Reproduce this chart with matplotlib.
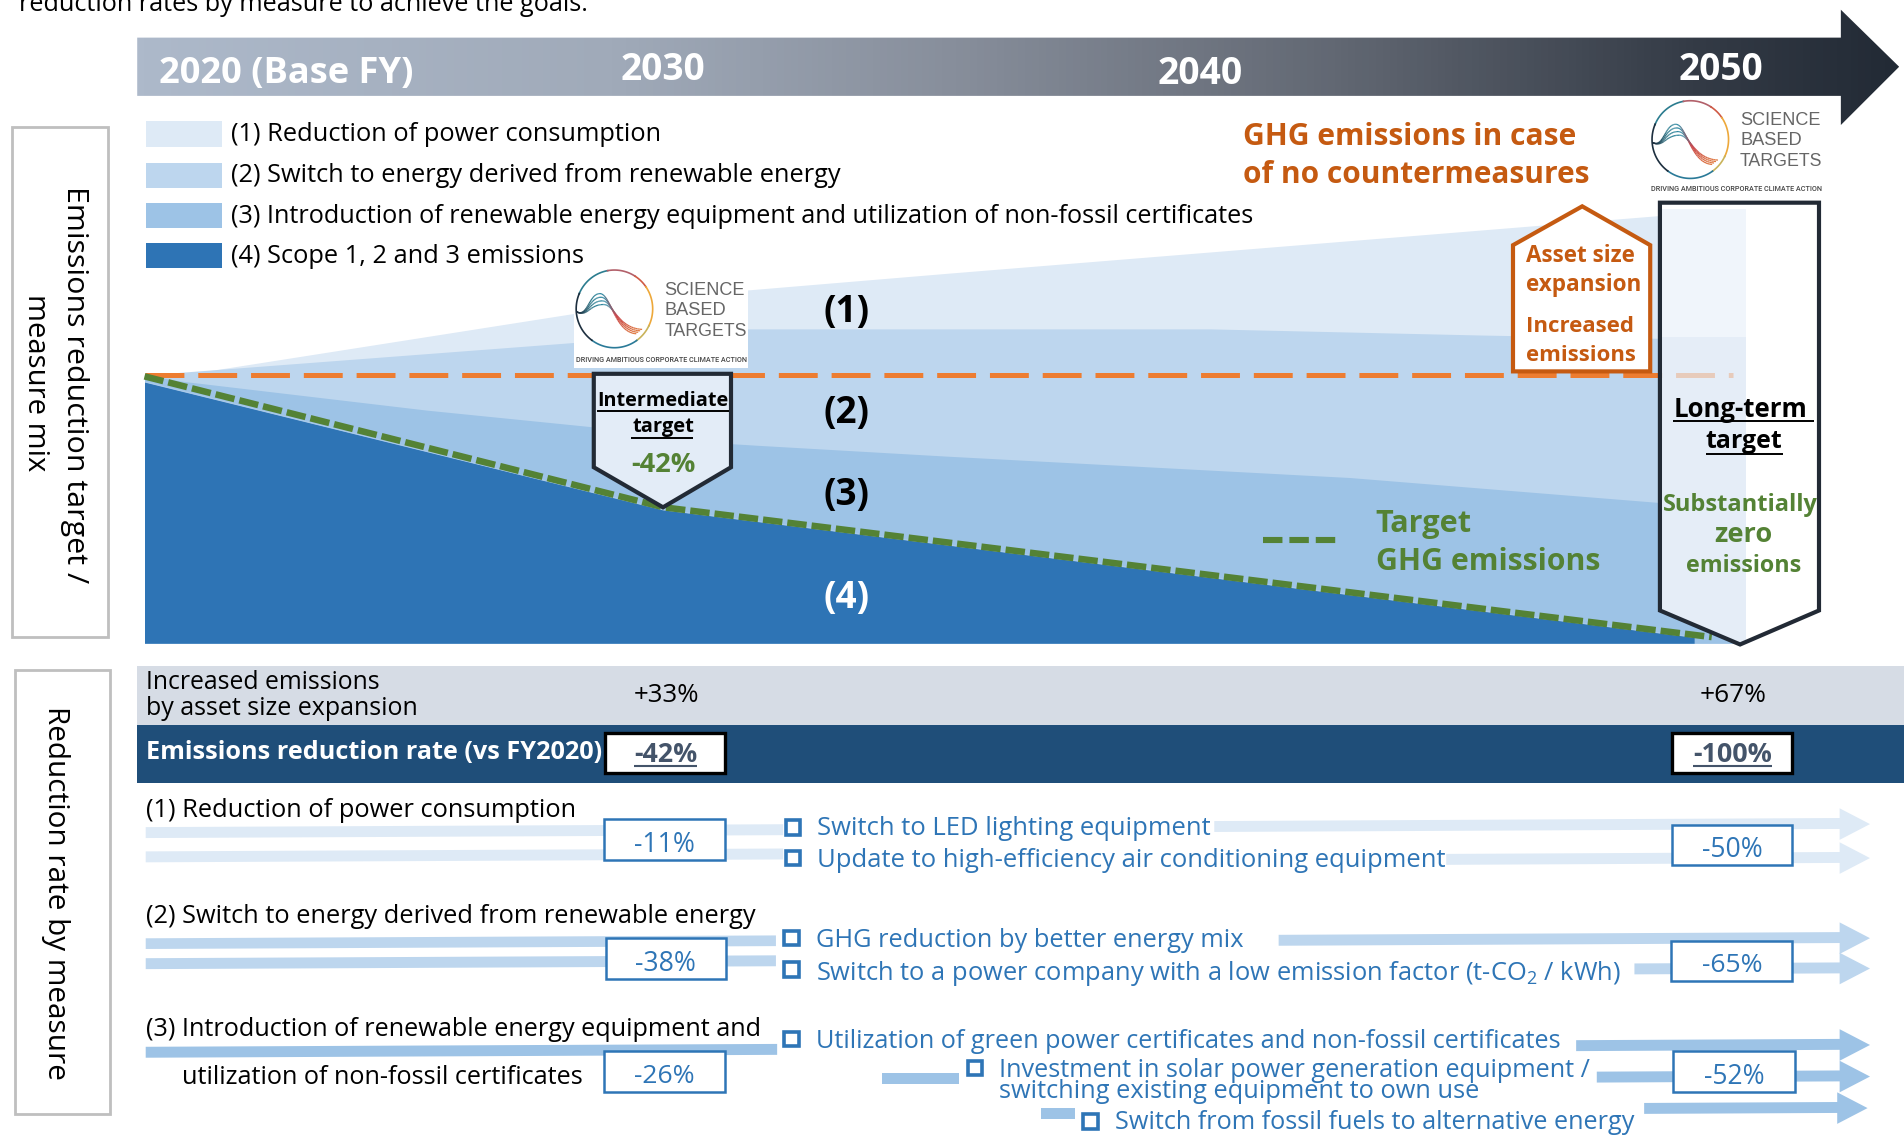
import numpy as np
import matplotlib
matplotlib.use("Agg")
import matplotlib.pyplot as plt
from matplotlib.colors import LinearSegmentedColormap
from matplotlib.patches import Polygon, Rectangle
from matplotlib.collections import LineCollection

plt.rcParams['font.family'] = ['Open Sans', 'DejaVu Sans']
plt.rcParams['mathtext.default'] = 'regular'
plt.rcParams['lines.scale_dashes'] = False

# ---------- data ----------
fy_top = [2020, 2020.7, 2028.1, 2031.3, 2035.1, 2050]
no_action = [100, 100, 123.1, 131.7, 138, 162]          # top of layer (1)
fy_l2 = [2020, 2028.1, 2031.3, 2040.0, 2045.1, 2050]
after_power = [100, 112.2, 117.2, 117.2, 114.9, 113.1]  # top of layer (2)
fy_l3 = [2020, 2020.7, 2025.3, 2028.7, 2029.7, 2031.5, 2035.1, 2042.6, 2048.4, 2050]
after_renew = [100, 97.7, 86.9, 80.1, 76, 73.8, 69.7, 61.8, 52.5, 49.8]  # top of layer (3)
fy_l4 = [2020, 2029.73, 2049.07, 2049.07]
scope_emis = [97.5, 49.8, 2.3, 0]                        # top of layer (4)
fy_target = [2020, 2029.73, 2049.4]
target_ghg = [99.5, 50.7, 2.3]
fy_base = [2020, 2049.8]
base_line = [100, 100]

year_labels = ["2020 (Base FY)", "2030", "2040", "2050"]
legend_labels = ["(1) Reduction of power consumption",
                 "(2) Switch to energy derived from renewable energy",
                 "(3) Introduction of renewable energy equipment and utilization of non-fossil certificates",
                 "(4) Scope 1, 2 and 3 emissions"]
layer_colors = ["#deeaf6", "#bdd6ee", "#9dc3e6", "#2e74b5"]
asset_increase = ["+33%", "+67%"]
total_rate = ["-42%", "-100%"]
power_rate = ["-11%", "-50%"]
renew_rate = ["-38%", "-65%"]
equip_rate = ["-26%", "-52%"]

SC = 1904 / 1568
fig = plt.figure(figsize=(19.04, 11.36), dpi=100)
rend = fig.canvas.get_renderer()

def full_axes(z):
    a = fig.add_axes([0, 0, 1, 1], zorder=z)
    a.set_xlim(0, 1568); a.set_ylim(936, 0); a.axis('off')
    a.patch.set_alpha(0)
    return a

bg = full_axes(1)
ov = full_axes(3)

# ---------- chart axes: FY on x, emissions index on y ----------
X0, X1, Y0, Y100 = 119, 1436, 530, 309
ytop = 170
ytop_px = Y0 - (Y0 - Y100) * ytop / 100
ch = fig.add_axes([X0 / 1568, 1 - Y0 / 936, (X1 - X0) / 1568, (Y0 - ytop_px) / 936], zorder=2)
ch.set_xlim(2020, 2050); ch.set_ylim(0, ytop); ch.axis('off'); ch.patch.set_alpha(0)
ch.fill_between(fy_top, no_action, 0, color=layer_colors[0], lw=0)
ch.fill_between(fy_l2, after_power, 0, color=layer_colors[1], lw=0)
ch.fill_between(fy_l3, after_renew, 0, color=layer_colors[2], lw=0)
ch.fill_between(fy_l4, scope_emis, 0, color=layer_colors[3], lw=0)
ch.plot(fy_l4[:3], scope_emis[:3], color="#a8c9ea", lw=1.0)
ch.plot(fy_base, base_line, color="#ed7d31", lw=3.6, dashes=(28, 10), dash_capstyle='butt', clip_on=False)
ch.plot(fy_target, target_ghg, color="#548235", lw=4.7, dashes=(14, 3.6), dash_capstyle='butt', clip_on=False)

# ---------- helpers ----------
def T(x, y, s, w, ha='left', color='black', weight='normal', rot=0, a=ov, family=None, z=20):
    kw = {'family': family} if family else {}
    t = a.text(x, y + (0 if rot else 2), s, fontsize=20, ha=ha, va='center', color=color,
               fontweight=weight, zorder=z, **kw)
    bb = t.get_window_extent(rend)
    t.set_fontsize(20 * w * SC / bb.width)
    if rot:
        t.set_rotation(rot)
    return t

def UL(x0, x1, y, color='black', lw=1.4):
    ov.plot([x0, x1], [y, y], color=color, lw=lw, solid_capstyle='butt', zorder=21)

def stripe(x0, x1, y0, y1, color, tilt=1.5):
    ov.add_patch(Polygon([(x0, y0 + tilt), (x1, y0 - tilt * (x1 - x0) / 900),
                          (x1, y1 - tilt * (x1 - x0) / 900), (x0, y1 + tilt)],
                         closed=True, fc=color, ec='none', zorder=5))

def arrow(x0, yc, color, xh=1515, xt=1540):
    d = 2.5 * (xh - x0) / 515
    ov.add_patch(Polygon([(x0, yc - 4.5 + d - .5), (xh, yc - 4.5 - .5), (xh, yc - 13), (xt, yc), (xh, yc + 13),
                          (xh, yc + 4.5 - .5), (x0, yc + 4.5 + d - .5)], closed=True, fc=color, ec='none', zorder=5))

def valbox(x0, y0, x1, y1, s, w, tx):
    ov.add_patch(Rectangle((x0, y0), x1 - x0, y1 - y0, fc='white', ec='#2e75b6', lw=1.8, zorder=8))
    T(tx, (y0 + y1) / 2 + 2, s, w, ha='center', color='#2e75b6')

def bullet(x, y):
    ov.add_patch(Rectangle((x - 6, y - 6), 12, 12, fc='white', ec='#2e75b6', lw=2.6, zorder=8))

def bez(p0, p1, p2, p3, n=30):
    t = np.linspace(0, 1, n)[:, None]
    p0, p1, p2, p3 = map(np.asarray, (p0, p1, p2, p3))
    return (1 - t) ** 3 * p0 + 3 * (1 - t) ** 2 * t * p1 + 3 * (1 - t) * t ** 2 * p2 + t ** 3 * p3

logo_cmap = LinearSegmentedColormap.from_list('wave', [(0, '#1d2f3f'), (.35, '#2b7c8f'), (.55, '#2f8aa5'),
                                                       (.75, '#c9474f'), (1, '#e0793f')])

def logo(cx, cy, tx, ty, sx, sy):
    segs = [(-2.75, -1.75, '#2b7c8f'), (-1.75, -1.0, '#b2606a'), (-1.0, -0.6, '#cf5a45'), (-0.6, 0.45, '#eda83a'),
            (0.45, 0.95, '#c9b35a'), (0.95, 2.2, '#2a7a98'), (2.2, 3.55, '#1d2f3f')]
    for a0, a1, c in segs:
        th = np.linspace(a0, a1, 60)
        ov.plot(cx + 31.5 * np.cos(th), cy + 32 * np.sin(th), color=c, lw=1.2, zorder=12)
    for i in range(4):
        p = -12.6 + 3.0 * i
        e = (18 + 1.6 * i, 20.5 - 1.2 * i)
        a = bez((-31, 2.5), (-22, 7), (-21, p), (-12 + i, p))
        b = bez((-12 + i, p), (-3 + i, p), (0 + i, e[1] - 1), e)
        pts = np.vstack([a, b[1:]]) + np.array([cx, cy])
        segs2 = np.stack([pts[:-1], pts[1:]], axis=1)
        lc = LineCollection(segs2, cmap=logo_cmap, array=np.linspace(0, 1, len(segs2)), linewidths=0.9, zorder=12)
        ov.add_collection(lc)
    for s, w, dy in zip(["SCIENCE", "BASED", "TARGETS"], [66, 51, 68], [0, 17, 34]):
        T(tx, ty + dy, s, w, color='#666666', family='Liberation Sans')
    T(sx, sy, "DRIVING AMBITIOUS CORPORATE CLIMATE ACTION", 141, color='#444444', family='Roboto', weight='medium')

# ---------- header ----------
T(16, 2, "reduction rates by measure to achieve the goals.", 468, a=bg)
cmap = LinearSegmentedColormap.from_list('hdr', [(0, '#adb9ca'), (.27, '#a0aab9'), (.465, '#878e9b'),
                                                 (.68, '#626873'), (.885, '#343b46'), (1, '#222a35')])
im = bg.imshow(np.linspace(0, 1, 512)[None, :], extent=(113, 1564, 103, 8), cmap=cmap, aspect='auto', zorder=2)
bg.set_xlim(0, 1568); bg.set_ylim(936, 0)
clip = Polygon([(113, 31), (1516, 31), (1516, 8), (1564, 55), (1516, 103), (1516, 79), (113, 79)],
               closed=True, transform=bg.transData, fc='none', ec='none')
bg.add_patch(clip); im.set_clip_path(clip)
T(131, 59, year_labels[0], 210, color='white', weight='bold', a=bg)
T(546, 56, year_labels[1], 70, ha='center', color='white', weight='bold', a=bg)
T(988, 59, year_labels[2], 70, ha='center', color='white', weight='bold', a=bg)
T(1417, 56, year_labels[3], 70, ha='center', color='white', weight='bold', a=bg)

# ---------- side boxes ----------
bg.add_patch(Rectangle((10, 105), 79, 420, fc='white', ec='#bfbfbf', lw=2))
bg.add_patch(Rectangle((12, 552), 79, 366, fc='white', ec='#bfbfbf', lw=2))
T(61, 317, "Emissions reduction target /", 325, ha='center', rot=-90, a=bg)
T(29, 315, "measure mix", 146, ha='center', rot=-90, a=bg)
T(46, 736, "Reduction rate by measure", 307, ha='center', rot=-90, a=bg)

# ---------- legend ----------
for yy, c, s, w in zip([100, 134, 167, 200], layer_colors, legend_labels, [353, 500, 843, 290]):
    bg.add_patch(Rectangle((120, yy), 63, 21, fc=c, ec='none'))
    T(190, yy + 9, s, w, a=bg)

# ---------- chart annotations ----------
for s, y, c in zip(["(1)", "(2)", "(3)", "(4)"], [255, 338, 406, 491], ['black', 'black', 'black', 'white']):
    T(697, y, s, 38, ha='center', color=c, weight='bold')

ov.add_patch(Rectangle((473, 222), 143, 81, fc='white', ec='none', zorder=10))
logo(506, 254.5, 547, 237, 474, 295)
logo(1392, 115, 1433, 97, 1360, 154)

ov.add_patch(Polygon([(489, 308), (602, 308), (602, 385), (546, 418), (489, 385)], closed=True,
                     fc='#e3ecf7', ec='#222a35', lw=3, joinstyle='miter', zorder=10))
T(546, 328, "Intermediate", 108, ha='center', weight='bold'); UL(492, 600, 339)
T(546, 350, "target", 51, ha='center', weight='bold'); UL(520, 571, 361)
T(546, 381, "-42%", 53, ha='center', color='#548235', weight='bold')

ov.add_patch(Polygon([(1303, 170), (1359, 202), (1359, 306), (1246, 306), (1246, 202)], closed=True,
                     fc='white', ec='#c55a11', lw=3, joinstyle='miter', zorder=10))
for s, w, y in zip(["Asset size", "expansion", "Increased", "emissions"], [90, 95, 89, 90], [209, 233, 267, 291]):
    T(1257, y, s, w, color='#c55a11', weight='bold')

T(1024, 111, "GHG emissions in case", 275, color='#c55a11', weight='bold')
T(1024, 142, "of no countermeasures", 285, color='#c55a11', weight='bold')
ov.plot([1040, 1100], [445, 445], color='#548235', lw=4.4, dashes=(14, 5), dash_capstyle='butt', zorder=9)
T(1133, 430, "Target", 79, color='#548235', weight='bold')
T(1133, 461, "GHG emissions", 185, color='#548235', weight='bold')

# long-term box
box_xy = [(1367, 167), (1498, 167), (1498, 503), (1433, 531), (1367, 503)]
ov.add_patch(Polygon(box_xy, closed=True, fc='white', ec='none', zorder=9))
bclip = Polygon(box_xy, closed=True, transform=ov.transData, fc='none', ec='none')
ov.add_patch(bclip)
for y0, y1, c in [(172, 278, '#f0f5fb'), (278, 537, '#e5edf7')]:
    r = Rectangle((1367, y0), 71, y1 - y0, fc=c, ec='none', zorder=9)
    ov.add_patch(r); r.set_clip_path(bclip)
fl = ov.plot(fy_base, base_line, transform=ch.transData, color="#ed7d31", lw=3.6, alpha=.3,
             dashes=(28, 10), dash_capstyle='butt', zorder=9.5)[0]
fl.set_clip_path(bclip)
ov.add_patch(Polygon(box_xy, closed=True, fc='none', ec='#222a35', lw=3, joinstyle='miter', zorder=10))
T(1433, 335, "Long-term", 110, ha='center', weight='bold'); UL(1378, 1494, 347)
T(1436, 362, "target", 63, ha='center', weight='bold'); UL(1405, 1468, 374)
T(1433, 414, "Substantially", 127, ha='center', color='#548235', weight='bold')
T(1436, 439, "zero", 48, ha='center', color='#548235', weight='bold')
T(1436, 464, "emissions", 95, ha='center', color='#548235', weight='bold')

# ---------- table bands ----------
bg.add_patch(Rectangle((113, 549), 1455, 48, fc='#d6dce5', ec='none'))
bg.add_patch(Rectangle((113, 597), 1455, 48, fc='#1f4e79', ec='none'))
T(120, 560, "Increased emissions", 192)
T(120, 582, "by asset size expansion", 224)
T(549, 571, asset_increase[0], 54, ha='center')
T(1427, 571, asset_increase[1], 55, ha='center')
T(120, 618, "Emissions reduction rate (vs FY2020)", 375, color='white', weight='bold')
for x0, s, w, tx in zip([498, 1377], total_rate, [52, 65], [548, 1427]):
    ov.add_patch(Rectangle((x0, 604), 99, 33, fc='white', ec='black', lw=2.4, zorder=8))
    T(tx, 620, s, w, ha='center', color='#44546a', weight='bold')
    UL(tx - w / 2, tx + w / 2, 631, color='#44546a', lw=1.5)

# ---------- measures ----------
c1, c2, c3 = layer_colors[:3]
T(120, 666, "(1) Reduction of power consumption", 353)
stripe(120, 645, 680, 689, c1); stripe(120, 645, 700, 709, c1)
arrow(1000, 679, c1); arrow(1191, 707, c1)
valbox(497, 675, 597, 709, power_rate[0], 50, 547)
valbox(1377, 680, 1476, 713, power_rate[1], 50, 1427)
bullet(653, 682); bullet(653, 707)
T(673, 681, "Switch to LED lighting equipment", 323, color='#2e75b6')
T(673, 707, "Update to high-efficiency air conditioning equipment", 515, color='#2e75b6')

T(120, 753, "(2) Switch to energy derived from renewable energy", 501)
stripe(120, 639, 771.6, 780.4, c2); stripe(120, 639, 788, 797, c2)
arrow(1053, 773, c2); arrow(1346, 798, c2)
valbox(499, 773, 598, 807, renew_rate[0], 50, 548)
valbox(1376, 775, 1476, 808, renew_rate[1], 50, 1427)
bullet(652, 773); bullet(652, 799)
T(672, 773, "GHG reduction by better energy mix", 352, color='#2e75b6')
T(672, 800, "Switch to a power company with a low emission factor (t-CO$_2$ / kWh)", 663, color='#2e75b6')

T(120, 846, "(3) Introduction of renewable energy equipment and", 508)
T(150, 886, "utilization of non-fossil certificates", 330)
stripe(120, 640, 861, 870, c3)
stripe(726, 790, 884, 893, c3, tilt=0); stripe(857, 885, 913, 922, c3, tilt=0)
arrow(1298, 861, c3); arrow(1315, 887, c3); arrow(1354, 913, c3, xh=1513, xt=1538)
valbox(497, 866, 597, 900, equip_rate[0], 50, 547)
valbox(1378, 866, 1478, 900, equip_rate[1], 50, 1428)
bullet(652, 856); bullet(803, 880); bullet(898, 924)
T(672, 856, "Utilization of green power certificates and non-fossil certificates", 614, color='#2e75b6')
T(823, 880, "Investment in solar power generation equipment /", 487, color='#2e75b6')
T(823, 897, "switching existing equipment to own use", 395, color='#2e75b6')
T(918, 923, "Switch from fossil fuels to alternative energy", 428, color='#2e75b6')

fig.savefig("out.png", dpi=100)
